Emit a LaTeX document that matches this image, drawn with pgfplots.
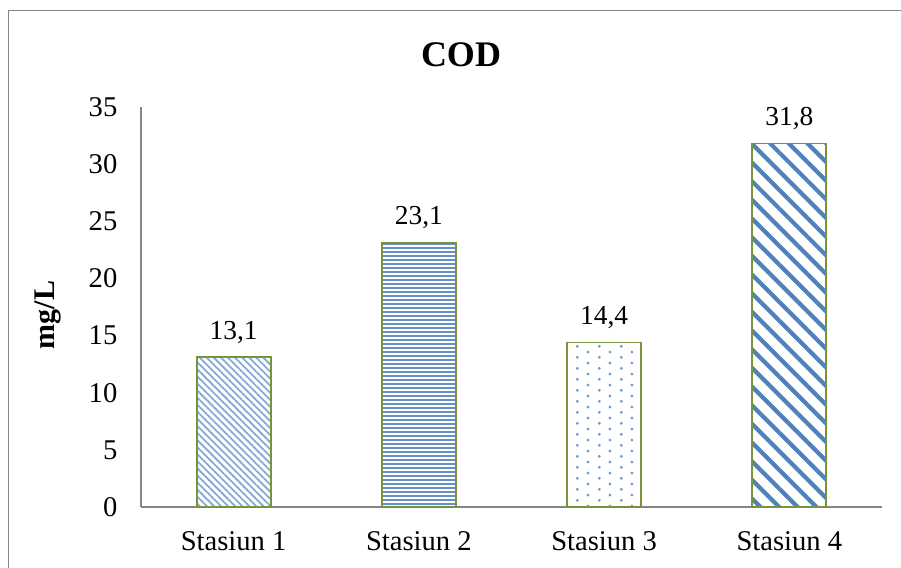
\documentclass[border=0pt]{standalone}
\usepackage{fontspec}
\setmainfont{Liberation Serif}
\usepackage{pgfplots}
\pgfplotsset{compat=1.18}
\usetikzlibrary{patterns,patterns.meta}

\definecolor{barblue}{HTML}{4F81BD}
\definecolor{lightblue}{HTML}{86A9D8}
\definecolor{midblue}{HTML}{6590C8}
\definecolor{dotblue}{HTML}{6E98CF}
\definecolor{baredge}{HTML}{77933C}
\definecolor{axisgray}{HTML}{868686}

% staggered dot grid
\pgfdeclarepatternformonly{staggerdots}{\pgfpointorigin}{\pgfpoint{11pt}{5.4pt}}{\pgfpoint{11pt}{5.4pt}}{%
  \pgfpathcircle{\pgfpoint{2.75pt}{1.35pt}}{0.8pt}%
  \pgfpathcircle{\pgfpoint{8.25pt}{4.05pt}}{0.8pt}%
  \pgfusepath{fill}%
}

\begin{document}
\begin{tikzpicture}
\useasboundingbox (-70.5pt,-30.5pt) rectangle (380pt,253.5pt);
\begin{axis}[
  scale only axis,
  width=370.5pt, height=200pt,
  ybar, bar width=37pt, bar shift=0pt,
  xmin=-0.5, xmax=3.5,
  ymin=0, ymax=35,
  xtick={0,1,2,3},
  xticklabels={Stasiun 1,Stasiun 2,Stasiun 3,Stasiun 4},
  ytick={0,5,...,35},
  major tick length=0pt,
  axis x line=bottom, axis y line=left,
  axis line style={-, draw=axisgray, line width=0.75pt},
  /pgf/number format/assume math mode=true,
  tick label style={font=\fontsize{14.3pt}{16pt}\selectfont},
  xticklabel style={anchor=base, yshift=-21.8pt},
  yticklabel style={anchor=east, xshift=-8.3pt},
  ylabel={mg/L},
  ylabel style={at={(axis description cs:-0.1255,0.48)}, anchor=center, rotate=0,
    font=\bfseries\fontsize{15pt}{17pt}\selectfont},
  nodes near coords,
  every node near coord/.append style={
    font=\fontsize{13.7pt}{15pt}\selectfont, anchor=base, yshift=9pt,
    /pgf/number format/.cd, fixed, fixed zerofill, precision=1, use comma, assume math mode=true},
  clip=false,
]
\addplot[draw=baredge, line width=0.9pt,
  pattern={Lines[angle=-45, distance=2.5pt, line width=0.9pt]}, pattern color=lightblue]
  coordinates {(0,13.1)};
\addplot[draw=baredge, line width=0.9pt,
  pattern={Lines[angle=0, distance=2pt, line width=0.9pt]}, pattern color=midblue]
  coordinates {(1,23.1)};
\addplot[draw=baredge, line width=0.9pt,
  pattern=staggerdots, pattern color=dotblue]
  coordinates {(2,14.4)};
\addplot[draw=baredge, line width=0.9pt,
  pattern={Lines[angle=-45, distance=6.6pt, line width=2.1pt]}, pattern color=barblue]
  coordinates {(3,31.8)};
\end{axis}
\node[font=\bfseries\fontsize{18pt}{20pt}\selectfont, anchor=base] at (160pt,220.2pt) {COD};
\draw[axisgray, line width=0.8pt] (-66.15pt,-31pt) -- (-66.15pt,248.15pt) -- (381pt,248.15pt);
\end{tikzpicture}
\end{document}
